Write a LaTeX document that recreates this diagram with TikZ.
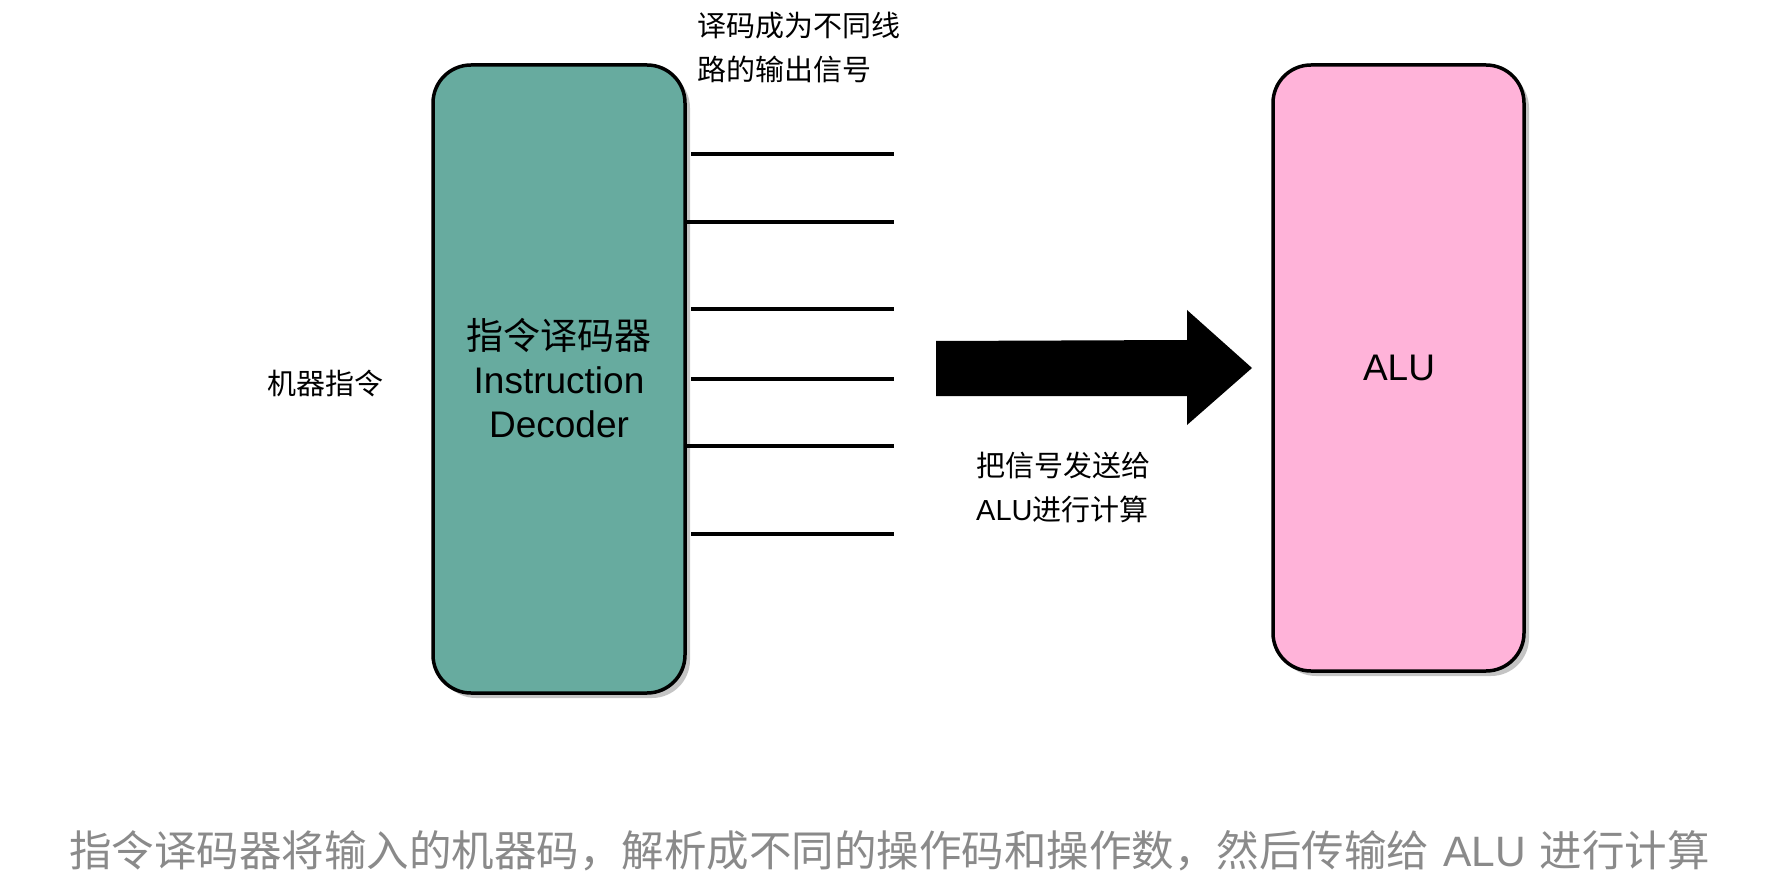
\documentclass[tikz,border=0pt]{standalone}
\usepackage{fontspec}
\setmainfont{Noto Sans CJK SC}
\newfontfamily\lat{Liberation Sans}
\usetikzlibrary{calc}
\definecolor{teal1}{HTML}{67AB9F}
\definecolor{pink1}{HTML}{FFB3D9}
\definecolor{shad}{HTML}{C4C4C4}
\definecolor{capgray}{HTML}{8A8A8A}
\tikzset{
  blockbox/.style={draw=black, line width=3.5pt, rounded corners=38pt, inner sep=0pt},
  shadowbox/.style={fill=shad, rounded corners=38pt},
  sigline/.style={line width=3.5pt},
  lbl/.style={font=\fontsize{29}{44}\selectfont, inner sep=0pt, align=left},
  boxtext/.style={font=\fontsize{37}{44}\selectfont, align=center, inner sep=0pt},
}
\begin{document}
\begin{tikzpicture}[x=1pt,y=-1pt]
\useasboundingbox (0,0) rectangle (1772,890);
% shadows
\fill[shadowbox] (438,70) rectangle (690,698);
\fill[shadowbox] (1278,70) rectangle (1529,676);
% decoder
\node[blockbox, fill=teal1, minimum width=252pt, minimum height=628pt] (dec) at (559,379) {};
\node[boxtext] (dectxt) at (559,378) {指令译码器\\{\lat Instruction}\\{\lat Decoder}};
% ALU
\node[blockbox, fill=pink1, minimum width=251pt, minimum height=606pt] (alu) at (1398.5,368) {};
\node[boxtext] (alutxt) at (1399,368) {\lat ALU};
% signal lines
\coordinate (s1) at (691,154); \coordinate (e1) at (894,154);
\coordinate (s2) at (dec.east |- 0,222); \coordinate (e2) at (894,222);
\coordinate (s3) at (691,309); \coordinate (e3) at (894,309);
\coordinate (s4) at (691,379); \coordinate (e4) at (894,379);
\coordinate (s5) at (dec.east |- 0,446); \coordinate (e5) at (894,446);
\coordinate (s6) at (691,534); \coordinate (e6) at (894,534);
\foreach \i in {1,...,6} {\draw[sigline] (s\i) -- (e\i);}
% big arrow
\coordinate (atip) at (1252,368);
\fill[black] (936,341) -- (1187,340) -- (1187,310) -- (atip) -- (1187,425) -- (1187,396) -- (936,396) -- cycle;
% labels
\node[lbl, anchor=center] (input) at (325,383) {机器指令};
\node[lbl, anchor=north west] (outlbl) at (697,12) {译码成为不同线\\路的输出信号};
\node[lbl, anchor=north west] (sendlbl) at (976,452) {把信号发送给\\{\lat ALU}进行计算};
\node[font=\fontsize{42.5}{50}\selectfont, text=capgray, inner sep=0pt, anchor=west] (cap) at (69,851) {指令译码器将输入的机器码，解析成不同的操作码和操作数，然后传输给\hspace{14pt}{\lat ALU}\hspace{14pt}进行计算};
\end{tikzpicture}
\end{document}
